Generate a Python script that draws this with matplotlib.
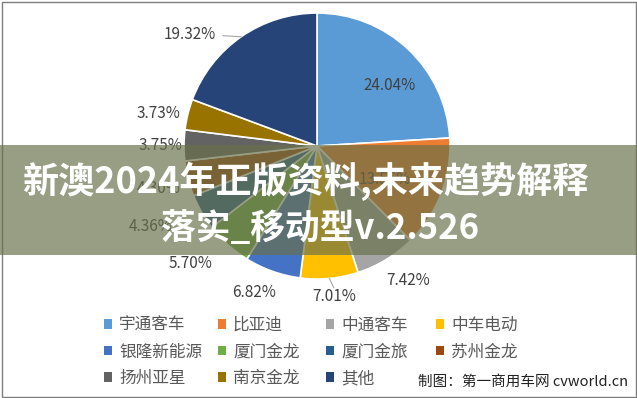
import matplotlib.pyplot as plt
from matplotlib.patches import Rectangle, Patch
import numpy as np

plt.rcParams['font.family'] = ['Noto Sans CJK SC', 'DejaVu Sans']

# 数据
brands = ["宇通客车", "比亚迪", "中通客车", "中车电动", "银隆新能源", "厦门金龙",
          "厦门金旅", "苏州金龙", "扬州亚星", "南京金龙", "其他"]
shares = [24.04, 13.55, 7.42, 7.01, 6.82, 5.70, 4.36, 4.30, 3.75, 3.73, 19.32]
colors = ["#5B9BD5", "#ED7D31", "#A5A5A5", "#FFC000", "#4472C4", "#70AD47",
          "#255E91", "#9E480E", "#636363", "#997300", "#264478"]

title_lines = ["新澳2024年正版资料,未来趋势解释", "落实_移动型v.2.526"]
credit = "制图：第一商用车网 cvworld.cn"

W, H = 637, 398
fig = plt.figure(figsize=(W / 100, H / 100), dpi=100)
ax = fig.add_axes([0, 0, 1, 1])

cx, cy, R = 317, 252, 133
wedges, _ = ax.pie(shares, colors=colors, startangle=90, counterclock=False,
                   center=(cx, cy), radius=R,
                   wedgeprops=dict(edgecolor="white", linewidth=1.2))

# 标签位置（半径倍数、角度偏移）
lab_r = [0.71, 0.57, 1.22, 1.14, 1.20, 1.30, 1.39, 1.23, 1.18, 1.22, 1.27]
lab_off = [6.7, 5.5, -3, -1, 3.6, 5, 4, -1, 0, -2, -14]
leader = [False, False, False, True, False, False, False, False, False, False, True]

for w, v, r, off, ld in zip(wedges, shares, lab_r, lab_off, leader):
    mid = (w.theta1 + w.theta2) / 2
    a = np.deg2rad(mid - off)
    x, y = cx + r * R * np.cos(a), cy + r * R * np.sin(a)
    ax.text(x, y, f"{v:.2f}%", ha="center", va="center", fontsize=11, color="#404040")
    if ld:
        am = np.deg2rad(mid)
        ex, ey = cx + R * np.cos(am), cy + R * np.sin(am)
        if off < -5:
            tx, ty = x + 33, y - 1
        else:
            tx, ty = x, y + 9
        ax.plot([ex, tx], [ey, ty], color="#a6a6a6", lw=0.8)

ax.set_xlim(0, W)
ax.set_ylim(0, H)
ax.set_aspect("equal")
ax.axis("off")

# 边框
ax.add_patch(Rectangle((1.5, 1.5), W - 3, H - 3, fill=False, edgecolor="#7f7f7f", lw=1, zorder=4))

# 图例：按列放置
order = [[0, 4, 8], [1, 5, 9], [2, 6, 10], [3, 7]]
col_x = [104, 218, 326, 436]
for xs, idx in zip(col_x, order):
    handles = [Patch(facecolor=colors[i], edgecolor="none", label=brands[i]) for i in idx]
    fig.legend(handles=handles, loc="upper left", bbox_to_anchor=(xs / W, 1 - 317 / H),
               frameon=False, fontsize=12, handlelength=0.5, handleheight=0.5,
               handletextpad=0.4, labelspacing=0.57, borderaxespad=0, borderpad=0,
               labelcolor="#595959")

fig.text(628 / W, 1 - 382 / H, credit, ha="right", va="center", fontsize=10.5, color="#222222")

# 半透明横幅
ax.add_patch(Rectangle((0, 143), W, 110, facecolor="#68704a", alpha=0.68,
                       edgecolor="none", zorder=6))
ax.text(305, H - 181, title_lines[0], ha="center", va="center", fontsize=26,
        fontweight="bold", color="white", zorder=7)
ax.text(320, H - 228, title_lines[1], ha="center", va="center", fontsize=25,
        fontweight="bold", color="white", zorder=7)

fig.savefig("out.png", dpi=100)
